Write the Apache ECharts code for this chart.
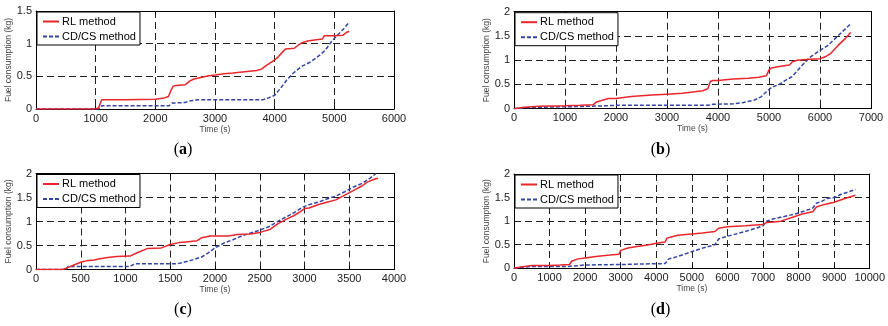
<!DOCTYPE html>
<html><head><meta charset="utf-8">
<script src="https://cdn.jsdelivr.net/npm/echarts@6/dist/echarts.min.js"></script>
<style>html,body{margin:0;padding:0;background:#fff}#c{width:888px;height:326px}</style>
</head><body><div id="c"></div>
<script>
const seriesNames = ['RL method', 'CD/CS method'];
const panelLetters = ['a', 'b', 'c', 'd'];
const xMaxes = [6000, 7000, 4000, 10000];
const xIntervals = [1000, 1000, 500, 1000];
const yMaxes = [1.5, 2, 2, 2];
const yInterval = 0.5;

const rlA = [[0,0],[1000,0],[1050,0.02],[1100,0.14],[1500,0.14],[2000,0.15],[2150,0.17],[2220,0.19],[2260,0.28],[2300,0.35],[2350,0.36],[2500,0.37],[2580,0.43],[2650,0.46],[2800,0.49],[2900,0.51],[3000,0.52],[3150,0.54],[3300,0.55],[3500,0.57],[3700,0.59],[3780,0.61],[3850,0.66],[3950,0.72],[4000,0.75],[4050,0.79],[4100,0.84],[4180,0.92],[4330,0.93],[4400,0.98],[4450,1.01],[4550,1.04],[4700,1.06],[4800,1.07],[4830,1.12],[5000,1.12],[5150,1.13],[5200,1.17],[5250,1.19]];
const cdA = [[0,0],[1050,0],[1080,0.02],[1100,0.05],[2230,0.05],[2280,0.09],[2500,0.1],[2560,0.12],[2700,0.14],[3800,0.14],[3900,0.17],[4000,0.21],[4100,0.32],[4200,0.44],[4300,0.54],[4450,0.65],[4600,0.72],[4750,0.82],[4850,0.9],[4950,1.03],[5050,1.13],[5150,1.22],[5250,1.33]];
const rlB = [[0,0],[200,0.03],[500,0.05],[1000,0.06],[1300,0.07],[1550,0.08],[1620,0.14],[1750,0.18],[1850,0.21],[2000,0.21],[2300,0.25],[2700,0.28],[3000,0.3],[3300,0.32],[3550,0.35],[3700,0.37],[3800,0.41],[3850,0.56],[3900,0.58],[4000,0.58],[4300,0.61],[4600,0.63],[4800,0.65],[4950,0.68],[5000,0.8],[5050,0.84],[5200,0.87],[5400,0.9],[5450,0.96],[5550,1.0],[5800,1.02],[6000,1.03],[6100,1.07],[6200,1.13],[6350,1.3],[6500,1.45],[6600,1.57]];
const cdB = [[0,0],[200,0.02],[500,0.03],[1000,0.04],[1500,0.05],[1800,0.06],[2000,0.07],[3000,0.07],[3800,0.07],[3900,0.09],[4300,0.1],[4500,0.13],[4700,0.17],[4850,0.25],[4950,0.35],[5050,0.44],[5200,0.5],[5300,0.57],[5450,0.66],[5550,0.78],[5700,0.95],[5800,1.06],[5900,1.13],[6000,1.2],[6150,1.3],[6300,1.45],[6450,1.6],[6600,1.75]];
const rlC = [[0,0],[300,0],[370,0.05],[430,0.1],[500,0.15],[560,0.18],[650,0.2],[700,0.22],[800,0.25],[900,0.27],[1050,0.28],[1130,0.35],[1250,0.44],[1400,0.45],[1500,0.52],[1600,0.56],[1700,0.58],[1800,0.6],[1850,0.66],[1950,0.7],[2150,0.7],[2250,0.73],[2400,0.74],[2500,0.77],[2550,0.8],[2620,0.84],[2700,0.95],[2800,1.05],[2880,1.12],[2950,1.2],[3000,1.27],[3050,1.28],[3150,1.35],[3250,1.4],[3350,1.45],[3450,1.55],[3550,1.65],[3650,1.75],[3700,1.82],[3780,1.88],[3820,1.9]];
const cdC = [[0,0],[330,0],[360,0.06],[1050,0.06],[1100,0.12],[1580,0.12],[1650,0.15],[1750,0.2],[1850,0.26],[1920,0.34],[2000,0.45],[2100,0.55],[2200,0.62],[2300,0.7],[2400,0.76],[2500,0.82],[2600,0.89],[2700,1.0],[2800,1.1],[2900,1.2],[2980,1.3],[3050,1.35],[3150,1.4],[3250,1.47],[3350,1.53],[3450,1.62],[3550,1.72],[3650,1.8],[3730,1.9],[3800,2.0]];
const rlD = [[0,0],[200,0.03],[400,0.05],[500,0.06],[1000,0.06],[1300,0.07],[1560,0.08],[1620,0.15],[1800,0.2],[2000,0.22],[2300,0.25],[2700,0.28],[2950,0.3],[3000,0.38],[3200,0.43],[3500,0.47],[3800,0.5],[4000,0.53],[4250,0.56],[4300,0.64],[4400,0.66],[4600,0.7],[5000,0.73],[5300,0.75],[5650,0.78],[5750,0.85],[6000,0.88],[6500,0.9],[7000,0.93],[7100,0.97],[7300,0.98],[7500,1.0],[7900,1.1],[8100,1.15],[8400,1.2],[8500,1.3],[8700,1.35],[9000,1.4],[9300,1.48],[9600,1.55]];
const cdD = [[0,0],[200,0.02],[500,0.04],[1500,0.04],[1700,0.05],[2000,0.07],[3000,0.08],[3500,0.09],[4250,0.1],[4350,0.2],[4600,0.25],[4800,0.3],[5100,0.38],[5400,0.45],[5650,0.5],[5750,0.62],[5950,0.67],[6200,0.72],[6500,0.78],[6800,0.85],[7000,0.9],[7100,1.0],[7300,1.05],[7600,1.1],[7900,1.15],[8100,1.2],[8300,1.25],[8400,1.28],[8500,1.38],[8650,1.42],[8800,1.48],[9000,1.5],[9200,1.57],[9400,1.62],[9600,1.67]];

const rlData = [rlA, rlB, rlC, rlD];
const cdData = [cdA, cdB, cdC, cdD];

const grids = [
  {left: 36, top: 11, width: 358, height: 98},
  {left: 514, top: 11.7, width: 357, height: 97},
  {left: 36, top: 173.5, width: 358, height: 96},
  {left: 514, top: 174, width: 357, height: 94.3}
];
const FONT = "'Liberation Sans', Arial, sans-serif";
const RED = '#e8262c', BLUE = '#3346a6';
const plain = v => String(v);

const xAxes = [], yAxes = [], series = [], legends = [], graphics = [];
grids.forEach((g, i) => {
  const common = {gridIndex: i, type: 'value', min: 0, animation: false};
  const lineS = {show: true, onZero: false, lineStyle: {color: '#000', width: 1}};
  const tick = {show: true, inside: true, length: 3, lineStyle: {color: '#000'}};
  xAxes.push(Object.assign({}, common, {
    max: xMaxes[i], interval: xIntervals[i], position: 'bottom',
    axisLine: lineS, axisTick: tick,
    axisLabel: {color: '#222', fontSize: 11, fontFamily: FONT, margin: 4, formatter: plain},
    splitLine: {show: true, lineStyle: {color: '#222', type: [7, 4], width: 1}},
    name: 'Time (s)', nameLocation: 'middle', nameGap: 13,
    nameTextStyle: {color: '#444', fontSize: 8.5, fontFamily: FONT, verticalAlign: 'top'}
  }));
  xAxes.push(Object.assign({}, common, {
    max: xMaxes[i], interval: xIntervals[i], position: 'top',
    axisLine: lineS, axisTick: tick,
    axisLabel: {show: false}, splitLine: {show: false}
  }));
  yAxes.push(Object.assign({}, common, {
    max: yMaxes[i], interval: yInterval, position: 'left',
    axisLine: lineS, axisTick: tick,
    axisLabel: {color: '#222', fontSize: 11, fontFamily: FONT, margin: 4, formatter: plain},
    splitLine: {show: true, lineStyle: {color: '#222', type: [7, 4], width: 1}},
    name: 'Fuel consumption (kg)', nameLocation: 'middle', nameGap: 18,
    nameTextStyle: {color: '#444', fontSize: 8.5, fontFamily: FONT}
  }));
  yAxes.push(Object.assign({}, common, {
    max: yMaxes[i], interval: yInterval, position: 'right',
    axisLine: lineS, axisTick: tick,
    axisLabel: {show: false}, splitLine: {show: false}
  }));
  series.push({
    name: seriesNames[0], type: 'line', xAxisIndex: 2 * i, yAxisIndex: 2 * i,
    data: rlData[i], showSymbol: false, symbol: 'none', animation: false, z: 3,
    lineStyle: {color: RED, width: 1.5}, itemStyle: {color: RED}
  });
  series.push({
    name: seriesNames[1], type: 'line', xAxisIndex: 2 * i, yAxisIndex: 2 * i,
    data: cdData[i], showSymbol: false, symbol: 'none', animation: false, z: 2,
    lineStyle: {color: BLUE, width: 1.5, type: [4, 2]}, itemStyle: {color: BLUE}
  });
  legends.push({
    data: seriesNames, orient: 'vertical', left: g.left + 1, top: g.top + 1,
    backgroundColor: '#fff', borderColor: '#000', borderWidth: 1,
    padding: [4, 4, 3, 5], itemGap: 4, itemWidth: 16, itemHeight: 10,
    selectedMode: false,
    itemStyle: {opacity: 0},
    textStyle: {color: '#000', fontSize: 11, fontFamily: FONT, padding: [0, 0, 0, -2]}
  });
  graphics.push({
    type: 'text', x: g.left + g.width / 2 - 32, y: (i < 2 ? 150 : 310),
    style: {
      text: '{p|(}{b|' + panelLetters[i] + '}{p|)}',
      align: 'center', verticalAlign: 'middle',
      rich: {
        p: {font: "16px 'Liberation Serif', 'DejaVu Serif', serif", fill: '#000'},
        b: {font: "bold 16px 'Liberation Serif', 'DejaVu Serif', serif", fill: '#000'}
      }
    }
  });
});

const chart = echarts.init(document.getElementById('c'), null, {renderer: 'canvas'});
chart.setOption({
  animation: false,
  backgroundColor: '#fff',
  grid: grids,
  xAxis: xAxes,
  yAxis: yAxes,
  legend: legends,
  series: series,
  graphic: graphics
});
</script>
</body></html>
